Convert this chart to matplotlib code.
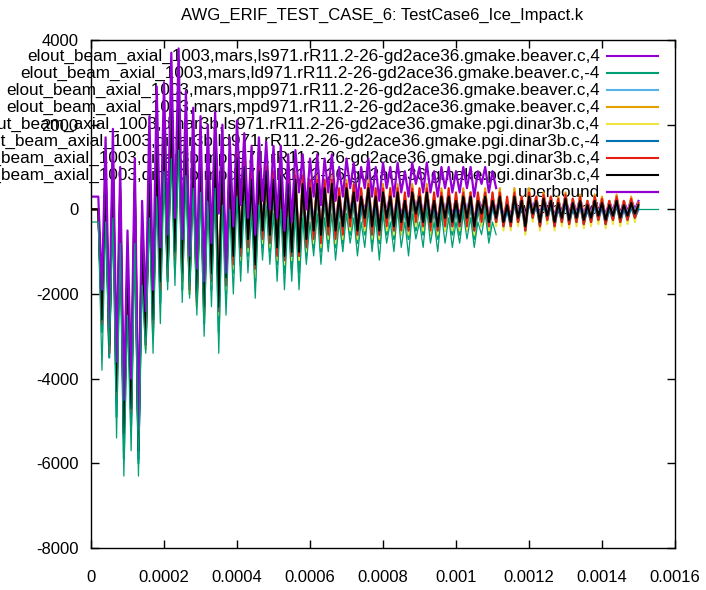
import numpy as np
import matplotlib
matplotlib.use('Agg')
import matplotlib.pyplot as plt

plt.rcParams['font.family'] = ['Liberation Sans', 'DejaVu Sans']
plt.rcParams['font.size'] = 12
plt.rcParams['axes.unicode_minus'] = False

# pas de temps des sorties (s)
dt = 1e-5

# series principales, une valeur tous les dt a partir de t = 0
s_mars_ls971 = [
    0, 0, 0, -2500, 1000, -3100, 1100, -4200, 400, -5200,
    -1200, -4600, 500, -5600, -500, -2900, 1000, -2500, 1600, -1600,
    2000, -1300, 2500, -900, 2700, -1400, 2000, -1600, 1600, -1900,
    1400, -2200, 1200, -1400, 1500, -2200, 1200, -1500, 1000, -1000,
    1300, -800, 1100, -600, 800, -1200, 1000, -400, 1000, -500,
    800, -800, 900, -1000, 700, -900, 800, -900, 700, -600,
    600, -400, 700, -500, 600, -300, 700, -400, 400, -300,
    600, -100, 500, -400, 400, -100, 600, -300, 400, -400,
    500, -100, 400, -300, 500, -200, 300, -300, 500, 0,
    400, -200, 500, -200, 300, -300, 400, -100, 400, -200,
    300, -200, 400, -100, 400, -300, 300, 0, 400, -200,
    300, -100, 400, -200, 200, -200, 400, -100, 300, -300,
    400, 0, 300, -200, 350, -50, 300, -200, 250, -100,
    350, -150, 250, -100, 300, -150, 200, -100, 300, -50,
    250, -150, 200, -50, 300, -100, 200, -50, 250, 0, 200]

s_mars_ld971 = [
    0, 0, 0, -2900, 700, -3400, 800, -4900, 100, -5900,
    -1600, -5100, 200, -6000, -900, -3300, 700, -3000, 1300, -2200,
    1700, -1700, 2200, -1400, 2400, -1900, 1700, -2000, 1300, -2300,
    1100, -2700, 900, -1900, 1200, -2900, 900, -2000, 700, -1500,
    1000, -1300, 800, -1100, 500, -1700, 700, -900, 700, -1000,
    500, -1300, 600, -1500, 400, -1400, 500, -1500, 400, -1100,
    300, -900, 400, -1000, 300, -800, 400, -900, 100, -800,
    300, -600, 200, -800, 100, -600, 300, -800, 100, -800,
    200, -600, 100, -700, 200, -600, 0, -700, 200, -500,
    100, -600, 200, -600, 0, -700, 100, -500, 100, -600,
    0, -600, 100, -500, 100, -700, 0, -400, 100, -600,
    150, -250, 250, -350, 50, -350, 250, -250, 150, -450,
    250, -150, 150, -350, 200, -200, 150, -350, 100, -250,
    200, -300, 100, -250, 150, -300, 50, -250, 150, -200,
    100, -300, 50, -200, 150, -250, 50, -200, 100, -150, 50]

s_mars_mpp971 = [
    0, 0, 0, -2600, 950, -3300, 1050, -4300, 350, -5250,
    -1250, -4650, 450, -5650, -550, -3050, 950, -2550, 1550, -1650,
    1950, -1350, 2450, -950, 2650, -1450, 1950, -1650, 1550, -1950,
    1350, -2250, 1150, -1450, 1450, -2250, 1150, -1550, 950, -1050,
    1250, -850, 1050, -650, 750, -1250, 950, -450, 950, -550,
    750, -850, 850, -1050, 650, -950, 750, -950, 650, -650,
    550, -450, 650, -550, 550, -350, 650, -450, 350, -350,
    550, -150, 450, -450, 350, -150, 550, -350, 350, -450,
    450, -150, 350, -350, 450, -250, 250, -350, 450, -50,
    350, -250, 450, -250, 250, -350, 350, -150, 350, -250,
    250, -250, 350, -150, 350, -350, 250, -50, 350, -250,
    250, -150, 350, -250, 150, -250, 350, -150, 250, -350,
    350, -50, 250, -250, 300, -100, 250, -250, 200, -150,
    300, -200, 200, -150, 250, -200, 150, -150, 250, -100,
    200, -200, 150, -100, 250, -150, 150, -100, 200, -50, 150]

s_mars_mpd971 = [
    0, 0, 0, -2500, 1100, -3300, 1100, -4100, 400, -5000,
    -1400, -4500, 500, -5400, -500, -3100, 1000, -2700, 1600, -1800,
    2000, -1500, 2300, -1100, 2500, -1600, 2000, -1800, 1600, -2100,
    1400, -2400, 1200, -1600, 1600, -2300, 1200, -1700, 1000, -1200,
    1400, -1000, 1100, -800, 800, -1500, 1000, -600, 1100, -700,
    800, -1000, 1000, -1200, 700, -1200, 900, -1000, 700, -800,
    600, -600, 800, -700, 600, -500, 800, -600, 400, -500,
    700, -300, 500, -600, 400, -300, 700, -500, 400, -600,
    600, -300, 400, -500, 600, -400, 300, -500, 600, -200,
    400, -400, 600, -400, 300, -500, 500, -300, 400, -400,
    300, -400, 500, -300, 400, -500, 300, -200, 500, -400,
    300, -300, 500, -400, 200, -400, 500, -300, 300, -500,
    500, -200, 300, -400, 400, -250, 300, -400, 300, -300,
    400, -350, 250, -300, 350, -350, 200, -300, 350, -250,
    300, -350, 200, -250, 350, -300, 200, -250, 300, -200, 150]

s_dinar_ls971 = [
    0, 0, 0, -2400, 1000, -3100, 1200, -4000, 500, -4900,
    -1600, -4400, 700, -5300, -300, -3300, 1100, -2500, 1800, -1600,
    2100, -1300, 2500, -1300, 2300, -1800, 1900, -2000, 1700, -2300,
    1400, -2600, 1200, -1800, 1500, -2500, 1300, -1900, 1000, -1400,
    1300, -1200, 1100, -1000, 900, -1600, 1000, -800, 1000, -900,
    900, -1200, 900, -1300, 800, -1200, 800, -1200, 700, -1000,
    700, -800, 700, -900, 700, -700, 700, -800, 500, -700,
    600, -500, 600, -700, 500, -500, 600, -700, 500, -700,
    500, -500, 500, -600, 500, -600, 400, -600, 500, -400,
    500, -500, 500, -600, 400, -600, 400, -500, 500, -500,
    400, -500, 400, -500, 400, -600, 400, -400, 400, -500,
    400, -400, 400, -500, 300, -500, 400, -400, 300, -600,
    400, -300, 300, -500, 350, -350, 300, -500, 250, -400,
    350, -450, 250, -400, 300, -450, 200, -400, 300, -350,
    250, -450, 200, -350, 300, -400, 200, -350, 250, -300, 150]

s_dinar_ld971 = [
    0, 0, 0, -2700, 800, -3500, 900, -4600, 200, -5400,
    -1200, -4900, 300, -5900, -700, -3200, 800, -2700, 1400, -1800,
    1800, -1500, 2300, -1100, 2500, -1600, 1800, -1800, 1400, -2100,
    1200, -2400, 1000, -1600, 1300, -2400, 1000, -1700, 800, -1200,
    1100, -1000, 900, -800, 600, -1400, 800, -600, 800, -700,
    600, -1000, 700, -1200, 500, -1100, 600, -1100, 500, -800,
    400, -600, 500, -700, 400, -500, 500, -600, 200, -500,
    400, -300, 300, -600, 200, -300, 400, -500, 200, -600,
    300, -300, 200, -500, 300, -400, 100, -500, 300, -200,
    200, -400, 300, -400, 100, -500, 200, -300, 200, -400,
    100, -400, 200, -300, 200, -500, 100, -200, 200, -400,
    100, -300, 200, -400, 0, -400, 200, -300, 100, -500,
    200, -200, 100, -400, 150, -250, 100, -400, 50, -300,
    150, -350, 50, -300, 100, -350, 0, -300, 100, -250,
    50, -350, 0, -250, 100, -300, 0, -250, 50, -200, 0]

s_dinar_mpp971 = [
    0, 0, 0, -2700, 1000, -3400, 1200, -4400, 500, -5100,
    -1500, -4800, 600, -5500, -400, -3200, 1100, -2800, 1700, -1900,
    2100, -1600, 2200, -1200, 2400, -1700, 2100, -1900, 1700, -2200,
    1500, -2500, 1300, -1700, 1500, -2400, 1300, -1800, 1100, -1300,
    1300, -1100, 1200, -900, 900, -1400, 1100, -700, 1000, -800,
    900, -1100, 900, -1200, 800, -1100, 800, -1100, 800, -900,
    700, -700, 700, -800, 700, -600, 700, -700, 500, -600,
    600, -400, 600, -600, 500, -400, 600, -600, 500, -600,
    500, -400, 500, -500, 500, -500, 400, -500, 500, -300,
    500, -400, 500, -500, 400, -500, 400, -400, 500, -400,
    400, -400, 400, -400, 400, -500, 400, -300, 400, -400,
    400, -300, 400, -400, 300, -400, 400, -300, 300, -500,
    400, -200, 300, -400, 350, -250, 300, -400, 250, -300,
    350, -350, 250, -300, 300, -350, 200, -300, 300, -250,
    250, -350, 200, -250, 300, -300, 200, -250, 250, -200, 150]

s_dinar_mpd971 = [
    0, 0, 0, -2600, 900, -3200, 1000, -4300, 300, -5300,
    -1300, -4700, 400, -5700, -600, -3000, 900, -2600, 1500, -1700,
    1900, -1400, 2400, -1000, 2600, -1500, 1900, -1700, 1500, -2000,
    1300, -2300, 1100, -1500, 1400, -2300, 1100, -1600, 900, -1100,
    1200, -900, 1000, -700, 700, -1300, 900, -500, 900, -600,
    700, -900, 800, -1100, 600, -1000, 700, -1000, 600, -700,
    500, -500, 600, -600, 500, -400, 600, -500, 300, -400,
    500, -200, 400, -500, 300, -200, 500, -400, 300, -500,
    400, -200, 300, -400, 400, -300, 200, -400, 400, -100,
    300, -300, 400, -300, 200, -400, 300, -200, 300, -300,
    200, -300, 300, -200, 300, -400, 200, -100, 300, -300,
    200, -200, 300, -300, 100, -300, 300, -200, 200, -400,
    300, -100, 200, -300, 250, -150, 200, -300, 150, -200,
    250, -250, 150, -200, 200, -250, 100, -200, 200, -150,
    150, -250, 100, -150, 200, -200, 100, -150, 150, -100, 100]

# bornes (s'arretent a 0.00111 s)
uperbound = [
    300, 300, 300, -1900, 1700, -2800, 1900, -3600, 1000, -4500,
    -500, -4000, 1200, -5200, 200, -2400, 2200, -1900, 2900, -900,
    3000, -600, 3700, -200, 3800, -700, 2800, -1100, 2400, -1400,
    2200, -1700, 2000, -800, 2300, -100, 2000, -1500, 1700, -400,
    2100, 100, 1800, -200, 1500, -600, 1700, 200, 1600, 0,
    1500, -200, 1500, -500, 1300, -300, 1400, 400, 1300, 0,
    1200, 300, 1300, 100, 1200, 400, 1300, 200, 1000, 300,
    1200, 500, 1100, 200, 1000, 500, 1200, 300, 1000, 200,
    1100, 500, 1000, 300, 1100, 400, 900, 300, 1100, 600,
    1000, 400, 1100, 400, 900, 300, 1000, 500, 1000, 400,
    900, 400, 1000, 500, 1000, 300, 900, 600, 1000, 400,
    900, 500]

lowerbound = [
    -300, -300, -300, -3800, -300, -3500, -200, -5400, -800, -6300,
    -2500, -5700, -800, -6300, -1800, -3400, -200, -3400, 300, -2700,
    900, -1900, 1200, -1800, 1400, -2200, 800, -2100, 500, -2500,
    400, -3000, 200, -2300, 500, -3400, 100, -2500, 0, -2000,
    300, -1700, 200, -1500, -100, -2100, 100, -1200, 100, -1300,
    -100, -1700, 0, -1900, -200, -1700, -100, -1900, -200, -1300,
    -300, -1100, -100, -1300, -200, -1000, -100, -1200, -300, -1000,
    -100, -800, -200, -1100, -300, -900, 0, -1000, -200, -1200,
    -100, -800, -300, -1000, 0, -900, -300, -1100, -100, -700,
    -300, -900, 0, -800, -300, -1000, -100, -800, -200, -900,
    -300, -800, -100, -700, -200, -900, -300, -600, -100, -800,
    -300, -600]

labels = [
    'elout_beam_axial_1003,mars,ls971.rR11.2-26-gd2ace36.gmake.beaver.c,4',
    'elout_beam_axial_1003,mars,ld971.rR11.2-26-gd2ace36.gmake.beaver.c,-4',
    'elout_beam_axial_1003,mars,mpp971.rR11.2-26-gd2ace36.gmake.beaver.c,4',
    'elout_beam_axial_1003,mars,mpd971.rR11.2-26-gd2ace36.gmake.beaver.c,4',
    'elout_beam_axial_1003,dinar3b,ls971.rR11.2-26-gd2ace36.gmake.pgi.dinar3b.c,4',
    'elout_beam_axial_1003,dinar3b,ld971.rR11.2-26-gd2ace36.gmake.pgi.dinar3b.c,-4',
    'elout_beam_axial_1003,dinar3b,mpp971.rR11.2-26-gd2ace36.gmake.pgi.dinar3b.c,4',
    'elout_beam_axial_1003,dinar3b,mpd971.rR11.2-26-gd2ace36.gmake.pgi.dinar3b.c,4',
    'uperbound',
    'lowerbound',
]

xticks = [0, 0.0002, 0.0004, 0.0006, 0.0008, 0.001, 0.0012, 0.0014, 0.0016]
xtick_labels = ['0', '0.0002', '0.0004', '0.0006', '0.0008', '0.001', '0.0012', '0.0014', '0.0016']
yticks = [-8000, -6000, -4000, -2000, 0, 2000, 4000]

# couleurs gnuplot par defaut
couleurs = ['#9400d3', '#009e73', '#56b4e9', '#e69f00', '#f0e442', '#0072b2',
            '#e51e10', '#000000', '#9400d3', '#009e73']
epaisseurs = [1.5] * 8 + [1.6, 0.9]

series = [s_mars_ls971, s_mars_ld971, s_mars_mpp971, s_mars_mpd971,
          s_dinar_ls971, s_dinar_ld971, s_dinar_mpp971, s_dinar_mpd971,
          uperbound, lowerbound]

fig = plt.figure(figsize=(7.06, 5.9), dpi=100)
ax = fig.add_axes([91 / 706, 1 - 548 / 590, 584 / 706, 508 / 590])

for s, c, lw in zip(series, couleurs, epaisseurs):
    t = np.arange(len(s)) * dt
    ax.plot(t, s, color=c, lw=lw, zorder=2)

ax.set_xlim(0, 0.0016)
ax.set_ylim(-8000, 4000)
ax.set_xticks(xticks)
ax.set_xticklabels(xtick_labels)
ax.set_yticks(yticks)
ax.tick_params(direction='in', length=6, width=1, top=True, right=True)
ax.tick_params(axis='x', pad=16, labelsize=12)
ax.tick_params(axis='y', pad=9, labelsize=12)
for sp in ax.spines.values():
    sp.set_linewidth(1)

# legende a la gnuplot : texte aligne a droite, sous les courbes
y0 = (548 - 56) / 508
dy = 17 / 508
for i, (lab, c, lw) in enumerate(zip(labels, couleurs, epaisseurs)):
    y = y0 - i * dy
    ax.text(0.871, y, lab, transform=ax.transAxes, ha='right', va='center',
            fontsize=12.3, zorder=1, clip_on=False)
    ax.plot([0.883, 0.971], [y, y], transform=ax.transAxes, color=c, lw=lw,
            zorder=1, clip_on=False)

fig.text(382 / 706, 1 - 15 / 590, 'AWG_ERIF_TEST_CASE_6: TestCase6_Ice_Impact.k',
         ha='center', va='center', fontsize=12)

plt.savefig('out.png', dpi=100)
